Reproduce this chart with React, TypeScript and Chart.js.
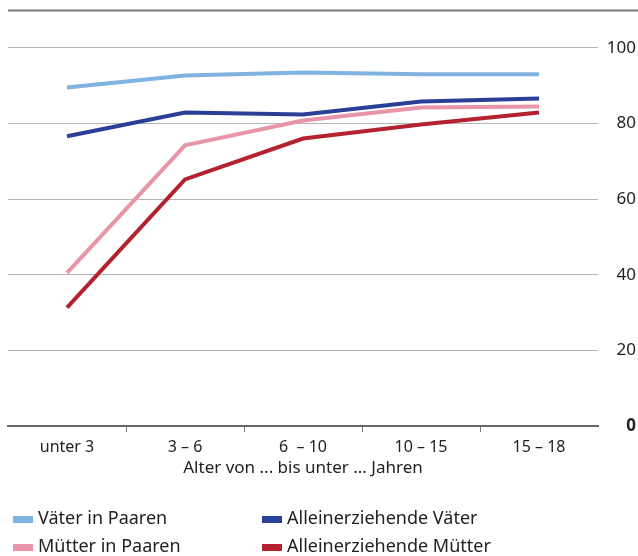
import React, { useEffect, useRef } from "react";
import { Chart, registerables } from "chart.js";

Chart.register(...registerables);

const categories = ["unter 3", "3 – 6", "6  – 10", "10 – 15", "15 – 18"];
const vaeterInPaaren = [89.5, 92.7, 93.5, 93.0, 93.0];
const alleinerziehendeVaeter = [76.6, 82.9, 82.4, 85.8, 86.6];
const muetterInPaaren = [40.5, 74.2, 80.8, 84.2, 84.5];
const alleinerziehendeMuetter = [31.3, 65.2, 76.0, 79.7, 82.9];
const yTickLabels = [0, 20, 40, 60, 80, 100];
const xTitle = "Alter von ... bis unter ... Jahren";

const FONT = "'Noto Sans', sans-serif";

const seriesDefs = [
  { label: "Väter in Paaren", data: vaeterInPaaren, color: "#80b3e1" },
  { label: "Alleinerziehende Väter", data: alleinerziehendeVaeter, color: "#2a3f96" },
  { label: "Mütter in Paaren", data: muetterInPaaren, color: "#e895a8" },
  { label: "Alleinerziehende Mütter", data: alleinerziehendeMuetter, color: "#b3222e" },
];

const frameAndLegend = {
  id: "frameAndLegend",
  afterDraw(chart: any) {
    const { ctx, chartArea } = chart;
    const y = chart.scales.y;
    ctx.save();
    const yTop = Math.round(y.getPixelForValue(110)) + 0.5;
    ctx.strokeStyle = "#7a7a7a";
    ctx.lineWidth = 2;
    ctx.beginPath();
    ctx.moveTo(chartArea.left, yTop);
    ctx.lineTo(chart.width, yTop);
    ctx.stroke();
    const colX = [13, 262];
    const rowY = [519, 547];
    ctx.font = `18px ${FONT}`;
    ctx.textBaseline = "middle";
    ctx.textAlign = "left";
    seriesDefs.forEach((s, i) => {
      const cx = colX[i % 2];
      const cy = rowY[Math.floor(i / 2)];
      ctx.fillStyle = s.color;
      ctx.fillRect(cx, cy - 3, 20, 7);
      ctx.fillStyle = "#222";
      ctx.fillText(s.label, cx + 25, cy);
    });
    ctx.restore();
  },
};

export default function App() {
  const ref = useRef<HTMLCanvasElement>(null);
  useEffect(() => {
    document.body.style.margin = "0";
    const chart = new Chart(ref.current!, {
      type: "line",
      data: {
        labels: categories,
        datasets: seriesDefs.map((s) => ({
          label: s.label,
          data: s.data,
          borderColor: s.color,
          backgroundColor: s.color,
          borderWidth: 4,
          pointRadius: 0,
          tension: 0,
          fill: false,
        })),
      },
      options: {
        animation: false,
        responsive: false,
        layout: { padding: { left: 8, top: 10, bottom: 78, right: 2 } },
        plugins: { legend: { display: false }, tooltip: { enabled: false } },
        scales: {
          x: {
            offset: true,
            afterFit: (s: any) => {
              s.height = 52;
            },
            grid: {
              offset: true,
              drawOnChartArea: false,
              drawTicks: true,
              tickLength: 6,
              color: (c: any) => (c.type === "tick" && c.index > 0 ? "#777" : "rgba(0,0,0,0)"),
              lineWidth: 1,
            },
            border: { display: true, color: "#666", width: 2 },
            ticks: { color: "#222", font: { family: FONT, size: 16 }, padding: 6, maxRotation: 0 },
            title: {
              display: true,
              text: xTitle,
              color: "#222",
              font: { family: FONT, size: 17 },
              padding: { top: 2, bottom: 0 },
            },
          },
          y: {
            position: "right",
            min: 0,
            max: 110,
            afterFit: (s: any) => {
              s.width = 38;
            },
            ticks: {
              stepSize: 10,
              padding: 4,
              crossAlign: "far",
              color: "#222",
              font: (c: any) => ({
                family: FONT,
                size: c.tick && c.tick.value > 100 ? 6 : 17,
                weight: c.tick && c.tick.value === 0 ? "bold" : "normal",
              }),
              callback: (v: any) => (yTickLabels.includes(Number(v)) ? String(v) : ""),
            },
            grid: {
              drawTicks: false,
              color: (c: any) => {
                const v = c.tick ? c.tick.value : -1;
                return v > 0 && v <= 100 && v % 20 === 0 ? "#b5b5b5" : "rgba(0,0,0,0)";
              },
              lineWidth: 1,
            },
            border: { display: false },
          },
        },
      },
      plugins: [frameAndLegend],
    });
    return () => chart.destroy();
  }, []);
  return <canvas ref={ref} width={638} height={556} style={{ display: "block" }} />;
}
